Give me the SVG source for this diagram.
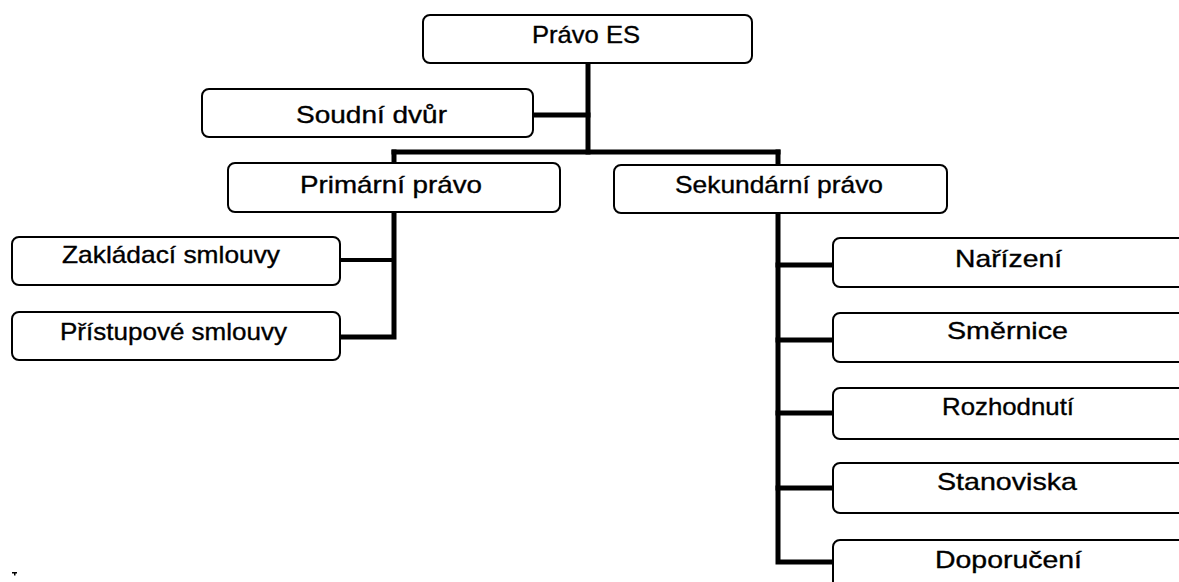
<svg xmlns="http://www.w3.org/2000/svg" width="1179" height="582" viewBox="0 0 1179 582">
<style>
  .box { fill: #ffffff; stroke: #000000; stroke-width: 2; }
  .lbl { font-family: "Liberation Sans", Arial, sans-serif; font-size: 24px; fill: #000000; stroke: #000000; stroke-width: 0.35; }
  .con { stroke: #000000; stroke-width: 5; fill: none; stroke-linecap: square; stroke-linejoin: miter; }
  .thin { stroke-width: 4; }
</style>
<rect x="0" y="0" width="1179" height="582" fill="#ffffff"/>
<g id="connectors">
  <path class="con" d="M588 63 V152"/>
  <path class="con" d="M535 115 H588"/>
  <path class="con" d="M394 152 H778"/>
  <path class="con" d="M394 152 V162"/>
  <path class="con" d="M778 152 V164"/>
  <path class="con" d="M394 213 V337 H342"/>
  <path class="con thin" d="M342 260 H394"/>
  <path class="con" d="M778 214 V562 H832"/>
  <path class="con" d="M778 265 H832"/>
  <path class="con" d="M778 340 H832"/>
  <path class="con" d="M778 413 H832"/>
  <path class="con" d="M778 488 H832"/>
</g>
<g id="node-pravo-es">
  <rect class="box" x="423" y="15" width="329" height="48" rx="7"/>
  <text class="lbl" x="532" y="43" textLength="108" lengthAdjust="spacingAndGlyphs">Právo ES</text>
</g>
<g id="node-soudni-dvur">
  <rect class="box" x="202" y="89" width="331" height="48" rx="7"/>
  <text class="lbl" x="296" y="123" textLength="151" lengthAdjust="spacingAndGlyphs">Soudní dvůr</text>
</g>
<g id="node-primarni-pravo">
  <rect class="box" x="228" y="163" width="332" height="49" rx="7"/>
  <text class="lbl" x="300" y="193" textLength="182" lengthAdjust="spacingAndGlyphs">Primární právo</text>
</g>
<g id="node-sekundarni-pravo">
  <rect class="box" x="614" y="165" width="333" height="48" rx="7"/>
  <text class="lbl" x="675" y="193" textLength="208" lengthAdjust="spacingAndGlyphs">Sekundární právo</text>
</g>
<g id="node-zakladaci-smlouvy">
  <rect class="box" x="12" y="237" width="328" height="48" rx="7"/>
  <text class="lbl" x="62" y="263" textLength="218" lengthAdjust="spacingAndGlyphs">Zakládací smlouvy</text>
</g>
<g id="node-pristupove-smlouvy">
  <rect class="box" x="12" y="312" width="328" height="48" rx="7"/>
  <text class="lbl" x="60" y="340" textLength="227" lengthAdjust="spacingAndGlyphs">Přístupové smlouvy</text>
</g>
<g id="node-narizeni">
  <rect class="box" x="833" y="238" width="380" height="49" rx="7"/>
  <text class="lbl" x="955" y="267" textLength="107" lengthAdjust="spacingAndGlyphs">Nařízení</text>
</g>
<g id="node-smernice">
  <rect class="box" x="833" y="313" width="380" height="49" rx="7"/>
  <text class="lbl" x="947" y="339" textLength="121" lengthAdjust="spacingAndGlyphs">Směrnice</text>
</g>
<g id="node-rozhodnuti">
  <rect class="box" x="833" y="388" width="380" height="51" rx="7"/>
  <text class="lbl" x="942" y="415" textLength="132" lengthAdjust="spacingAndGlyphs">Rozhodnutí</text>
</g>
<g id="node-stanoviska">
  <rect class="box" x="833" y="463" width="380" height="50" rx="7"/>
  <text class="lbl" x="937" y="490" textLength="140" lengthAdjust="spacingAndGlyphs">Stanoviska</text>
</g>
<g id="node-doporuceni">
  <rect class="box" x="833" y="540" width="380" height="70" rx="7"/>
  <text class="lbl" x="935" y="568" textLength="147" lengthAdjust="spacingAndGlyphs">Doporučení</text>
</g>
<g id="speck">
  <rect x="12" y="572" width="5" height="1.5" fill="#000000"/>
  <rect x="14" y="573" width="1.5" height="2.5" fill="#000000"/>
</g>
</svg>
